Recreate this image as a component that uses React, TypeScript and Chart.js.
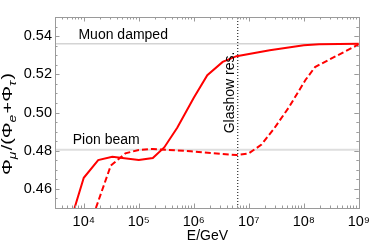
import React, { useEffect, useRef } from 'react';
import { Chart, registerables } from 'chart.js';

Chart.register(...registerables);

// ---- data ----
const energySolid = [6.8e3, 1.0e4, 1.83e4, 3.3e4, 1.0e5, 1.8e5, 2.9e5, 5.0e5, 1.0e6, 1.76e6, 3.35e6, 6.0e6, 2.4e7, 1.0e8, 1.9e8, 1.0e9];
const ratioSolid = [0.45, 0.4658, 0.4751, 0.4768, 0.4751, 0.4762, 0.4817, 0.492, 0.5077, 0.5195, 0.5265, 0.5295, 0.5326, 0.5352, 0.5357, 0.536];
const energyDashed = [1.66e4, 3.1e4, 5.7e4, 1.0e5, 1.8e5, 8.8e5, 6.0e6, 1.0e7, 1.7e7, 2.9e7, 5.4e7, 1.07e8, 1.6e8, 3.6e8, 1.0e9];
const ratioDashed = [0.45, 0.4722, 0.4786, 0.4804, 0.4809, 0.4797, 0.4777, 0.4786, 0.4832, 0.4917, 0.5029, 0.517, 0.5238, 0.5291, 0.5357];
const muonDampedValue = 0.536;
const pionBeamValue = 0.4805;
const glashowEnergy = 6.3e6;
const xMin = 3e3;
const xMax = 1e9;
const yMin = 0.45;
const yMax = 0.55;
const xTickValues = [1e4, 1e5, 1e6, 1e7, 1e8, 1e9];
const xTickLabels = ['10⁴', '10⁵', '10⁶', '10⁷', '10⁸', '10⁹'];
const yTickValues = [0.46, 0.48, 0.5, 0.52, 0.54];
const yTickLabels = ['0.46', '0.48', '0.50', '0.52', '0.54'];
const labelMuon = 'Muon damped';
const labelPion = 'Pion beam';
const labelGlashow = 'Glashow res.';
const xTitle = 'E/GeV';

const FONT = '"Liberation Sans", Arial, Helvetica, sans-serif';
const FRAME = '#9a9a9a';

const decorPlugin = {
  id: 'decor',
  afterDraw(chart: any) {
    const { ctx, chartArea: a, scales } = chart;
    const xs = scales.x;
    const ys = scales.y;
    ctx.save();
    // frame
    ctx.strokeStyle = FRAME;
    ctx.lineWidth = 1;
    ctx.strokeRect(Math.round(a.left) + 0.5, Math.round(a.top) + 0.5, Math.round(a.right - a.left), Math.round(a.bottom - a.top));
    // x ticks (major + minor), inside, top and bottom
    const tickX = (v: number, len: number) => {
      const px = Math.round(xs.getPixelForValue(v)) + 0.5;
      ctx.beginPath();
      ctx.moveTo(px, a.bottom);
      ctx.lineTo(px, a.bottom - len);
      ctx.moveTo(px, a.top);
      ctx.lineTo(px, a.top + len);
      ctx.stroke();
    };
    for (let d = 3; d < 9; d++) {
      for (let k = 1; k <= 9; k++) {
        const v = k * Math.pow(10, d);
        if (v < xMin || v > xMax) continue;
        tickX(v, k === 1 ? 4.5 : 2.5);
      }
    }
    const tickY = (v: number, len: number) => {
      const py = Math.round(ys.getPixelForValue(v)) + 0.5;
      ctx.beginPath();
      ctx.moveTo(a.left, py);
      ctx.lineTo(a.left + len, py);
      ctx.moveTo(a.right, py);
      ctx.lineTo(a.right - len, py);
      ctx.stroke();
    };
    for (let i = 0; i <= 20; i++) {
      const v = yMin + i * 0.005;
      const major = yTickValues.some((t) => Math.abs(t - v) < 1e-6);
      tickY(v, major ? 4.5 : 2.5);
    }

    // annotations
    ctx.fillStyle = '#000';
    ctx.font = `14px ${FONT}`;
    ctx.textBaseline = 'alphabetic';
    ctx.textAlign = 'left';
    ctx.fillText(labelMuon, xs.getPixelForValue(8.0e3), ys.getPixelForValue(0.5383));
    ctx.fillText(labelPion, xs.getPixelForValue(6.3e3), ys.getPixelForValue(0.4835));
    // Glashow label rotated
    ctx.save();
    ctx.translate(xs.getPixelForValue(glashowEnergy) - 4, ys.getPixelForValue(0.5105));
    ctx.rotate(-Math.PI / 2);
    ctx.textAlign = 'center';
    ctx.fillText(labelGlashow, 0, 0);
    ctx.restore();

    // x title
    ctx.textAlign = 'center';
    ctx.fillText(xTitle, (a.left + a.right) / 2 + 0.5, 240);

    // y title with subscripts
    const segs = [
      { t: 'Φ', s: 15, sub: false },
      { t: 'μ', s: 10.5, sub: true },
      { t: '/(Φ', s: 15, sub: false },
      { t: 'e', s: 10.5, sub: true },
      { t: '+Φ', s: 15, sub: false },
      { t: 'τ', s: 10.5, sub: true },
      { t: ')', s: 15, sub: false },
    ];
    let total = 0;
    const widths = segs.map((sg) => {
      ctx.font = `${sg.sub ? 'italic ' : ''}${sg.s}px ${FONT}`;
      const w = ctx.measureText(sg.t).width + (sg.sub ? 1 : 0);
      total += w;
      return w;
    });
    const target = 102;
    ctx.save();
    ctx.translate(12, 124);
    ctx.rotate(-Math.PI / 2);
    ctx.scale(target / total, 1);
    ctx.textAlign = 'left';
    let cx = -total / 2;
    segs.forEach((sg, i) => {
      ctx.font = `${sg.sub ? 'italic ' : ''}${sg.s}px ${FONT}`;
      ctx.fillText(sg.t, cx, sg.sub ? 3.5 : 0);
      cx += widths[i];
    });
    ctx.restore();

    ctx.restore();
  },
};

export default function App() {
  const ref = useRef<HTMLCanvasElement | null>(null);
  useEffect(() => {
    document.body.style.margin = '0';
    const canvas = ref.current;
    if (!canvas) return;
    const hline = (v: number) => [
      { x: xMin, y: v },
      { x: xMax, y: v },
    ];
    const chart = new Chart(canvas, {
      type: 'line',
      data: {
        datasets: [
          {
            data: hline(muonDampedValue),
            borderColor: '#d4d4d4',
            borderWidth: 1.3,
            pointRadius: 0,
            order: 5,
          },
          {
            data: hline(pionBeamValue),
            borderColor: '#dedede',
            borderWidth: 1.8,
            pointRadius: 0,
            order: 5,
          },
          {
            data: [
              { x: glashowEnergy, y: yMin },
              { x: glashowEnergy, y: yMax },
            ],
            borderColor: '#000',
            borderWidth: 1,
            borderDash: [1, 2],
            pointRadius: 0,
            order: 4,
          },
          {
            data: energySolid.map((e, i) => ({ x: e, y: ratioSolid[i] })),
            borderColor: 'rgb(255,0,0)',
            borderWidth: 2,
            pointRadius: 0,
            tension: 0,
            order: 1,
          },
          {
            data: energyDashed.map((e, i) => ({ x: e, y: ratioDashed[i] })),
            borderColor: 'rgb(255,0,0)',
            borderWidth: 2,
            borderDash: [6, 3],
            pointRadius: 0,
            tension: 0,
            order: 2,
          },
        ],
      },
      options: {
        responsive: false,
        animation: false,
        events: [],
        layout: { padding: { top: 17, right: 12, left: 0, bottom: 0 } },
        plugins: { legend: { display: false }, tooltip: { enabled: false } },
        scales: {
          x: {
            type: 'logarithmic',
            min: xMin,
            max: xMax,
            grid: { display: false, drawTicks: false },
            border: { display: false },
            afterBuildTicks: (s: any) => {
              s.ticks = xTickValues.map((v) => ({ value: v, major: false }));
            },
            afterFit: (s: any) => {
              s.height = 42;
            },
            ticks: {
              autoSkip: false,
              maxRotation: 0,
              minRotation: 0,
              padding: 5,
              color: '#000',
              font: { family: FONT, size: 14.5 },
              callback: (_v: any, i: number) => xTickLabels[i],
            },
          },
          y: {
            type: 'linear',
            min: yMin,
            max: yMax,
            grid: { display: false, drawTicks: false },
            border: { display: false },
            afterBuildTicks: (s: any) => {
              s.ticks = yTickValues.map((v) => ({ value: v }));
            },
            afterFit: (s: any) => {
              s.width = 55;
            },
            ticks: {
              padding: 3,
              color: '#000',
              font: { family: FONT, size: 14.5 },
              callback: (_v: any, i: number) => yTickLabels[i],
            },
          },
        },
      } as any,
      plugins: [decorPlugin],
    });
    return () => chart.destroy();
  }, []);
  return (
    <div style={{ width: 375, height: 250 }}>
      <canvas ref={ref} width={375} height={250} style={{ display: 'block' }} />
    </div>
  );
}
